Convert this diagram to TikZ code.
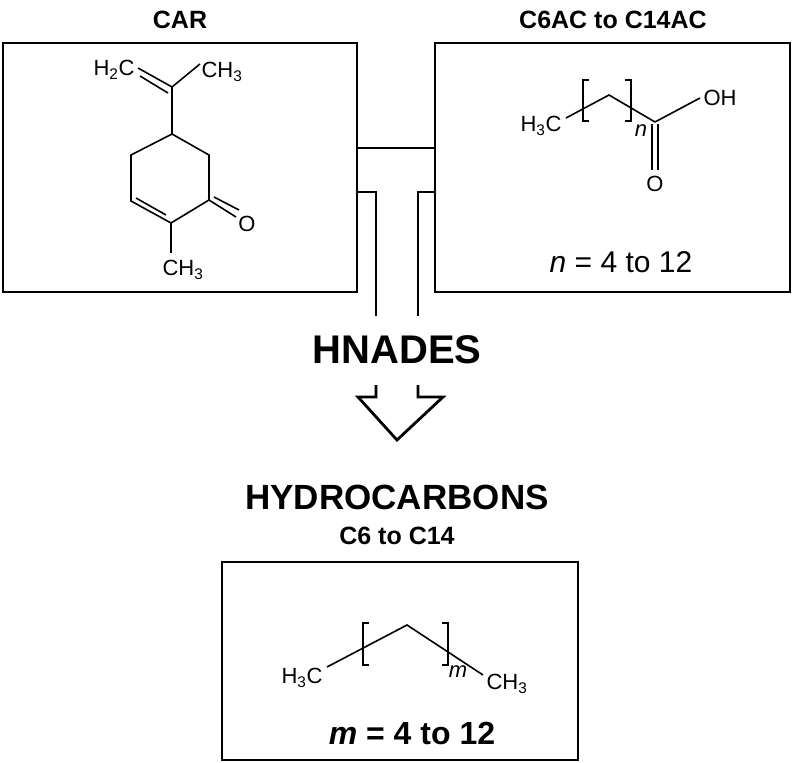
\documentclass[tikz,border=0pt]{standalone}
\usepackage{fontspec}
\setmainfont{Liberation Sans}
\begin{document}
\begin{tikzpicture}[x=1pt,y=-1pt,
  box/.style={draw,line width=2.8pt},
  bond/.style={line width=1.6pt},
  lbl/.style={inner sep=0pt,font=\fontsize{22}{22}\selectfont},
  ttl/.style={font=\bfseries\fontsize{25}{25}\selectfont},
  conn/.style={line width=2.8pt}]
\useasboundingbox (0,0) rectangle (793,763);
% titles
\node[ttl] (t1) at (180,20) {CAR};
\node[ttl] (t2) at (613,20) {C6AC to C14AC};
\node[font=\bfseries\fontsize{40}{40}\selectfont] (hn) at (397,350) {HNADES};
\node[font=\bfseries\fontsize{35}{35}\selectfont] (hc) at (397,497) {HYDROCARBONS};
\node[ttl] (t3) at (397,536) {C6 to C14};
% boxes
\draw[box] (3,43) rectangle (357,292);
\draw[box] (435,43) rectangle (790,292);
\draw[box] (222,562) rectangle (578,760);
% connector
\coordinate (a1) at (357,148); \coordinate (a2) at (435,148);
\draw[conn] (a1) -- (a2);
\coordinate (b1) at (357,192); \coordinate (b2) at (376,192); \coordinate (b3) at (376,316);
\draw[conn] (b1) -- (b2) -- (b3);
\coordinate (c1) at (435,192); \coordinate (c2) at (418,192); \coordinate (c3) at (418,316);
\draw[conn] (c1) -- (c2) -- (c3);
\coordinate (d1) at (376,385); \coordinate (d2) at (376,397); \coordinate (d3) at (358,397);
\coordinate (tip) at (397,440);
\coordinate (e1) at (418,385); \coordinate (e2) at (418,397); \coordinate (e3) at (443,397);
\draw[conn,line join=miter] (d1) -- (d2) -- (d3) -- (tip) -- (e3) -- (e2) -- (e1);
% carvone
\coordinate (r1) at (172,134); \coordinate (r2) at (209,155); \coordinate (r3) at (209,200);
\coordinate (r4) at (171,223); \coordinate (r5) at (131,201); \coordinate (r6) at (131,155);
\draw[bond,line join=miter] (r1) -- (r2) -- (r3) -- (r4) -- (r5) -- (r6) -- cycle;
\draw[bond] (166,215) -- (136,198);
\node[lbl] (O1) at (247,224) {O};
\draw[bond] (r3) -- (236,217);
\draw[bond] (214,197) -- (239,210);
\draw[bond] (r4) -- (171,253);
\node[lbl] (me1) at (183,270) {CH\textsubscript{3}};
\coordinate (c8) at (172,87);
\draw[bond] (r1) -- (c8);
\node[lbl] (h2c) at (114,70) {H\textsubscript{2}C};
\node[lbl] (me2) at (222,72) {CH\textsubscript{3}};
\draw[bond] (c8) -- (200,64);
\draw[bond] (c8) -- (138,68);
\draw[bond] (168,93) -- (140,76);
% acid
\node[lbl] (h3c) at (541,126) {H\textsubscript{3}C};
\coordinate (z1) at (566,118); \coordinate (z2) at (609,95);
\coordinate (cc) at (655,122);
\draw[bond] (z1) -- (z2) -- (cc);
\node[lbl] (oh) at (720,98) {OH};
\draw[bond] (cc) -- (700,98);
\node[lbl] (o2) at (655,184) {O};
\draw[bond] (652,124) -- (652,170);
\draw[bond] (658,124) -- (658,170);
\draw[bond] (589,80) -- (583,80) -- (583,121) -- (589,121);
\draw[bond] (625,80) -- (631,80) -- (631,121) -- (625,121);
\node[lbl,font=\itshape\fontsize{22}{22}\selectfont] (nn) at (641,131) {n};
\node[font=\fontsize{30}{30}\selectfont] (neq) at (621,262) {\textit{n} = 4 to 12};
% alkane
\node[lbl] (h3c2) at (302,678) {H\textsubscript{3}C};
\coordinate (y1) at (327,667); \coordinate (y2) at (407,625); \coordinate (y3) at (483,675);
\draw[bond] (y1) -- (y2) -- (y3);
\node[lbl] (me3) at (507,684) {CH\textsubscript{3}};
\draw[bond] (369,623) -- (363,623) -- (363,665) -- (369,665);
\draw[bond] (442,623) -- (448,623) -- (448,665) -- (442,665);
\node[lbl,font=\itshape\fontsize{22}{22}\selectfont] (mm) at (458,672) {m};
\node[font=\bfseries\fontsize{32}{32}\selectfont] (meq) at (412,733) {\textit{m} = 4 to 12};
\end{tikzpicture}
\end{document}
